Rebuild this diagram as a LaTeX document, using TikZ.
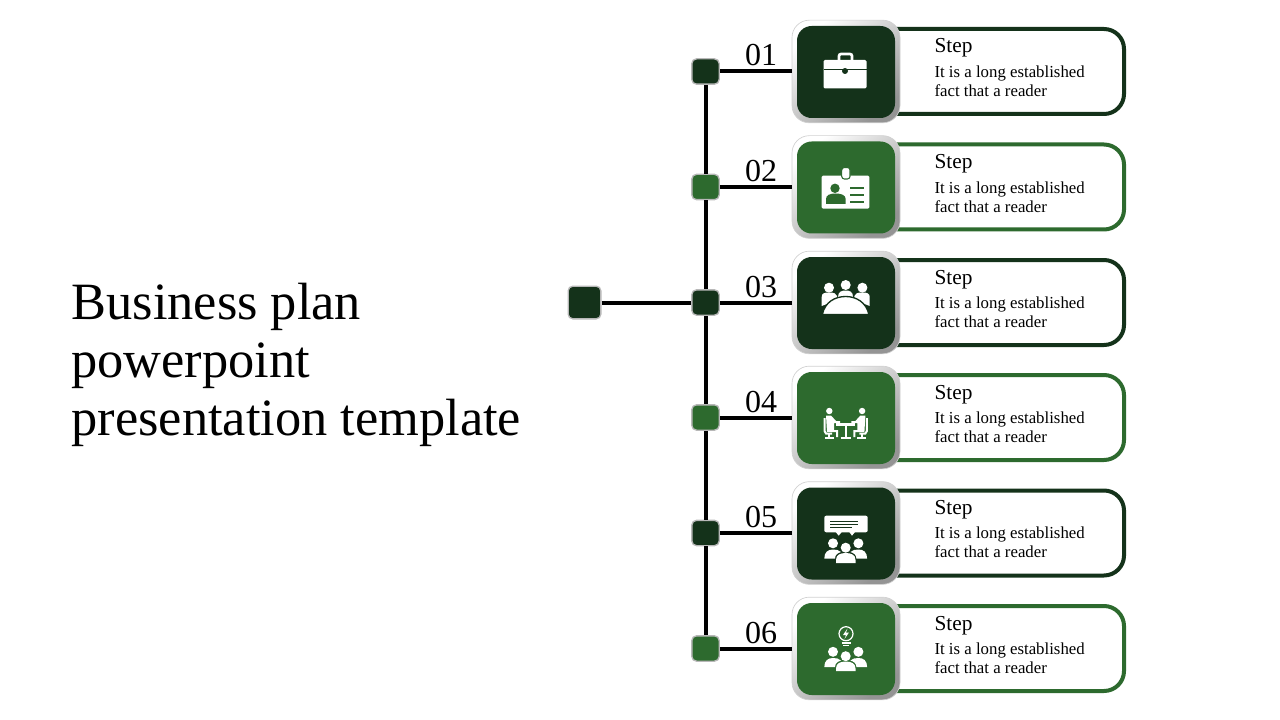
\documentclass[tikz,border=0pt]{standalone}
\usepackage{fontspec}
\setmainfont{Liberation Serif}
\definecolor{stepdark}{HTML}{14321A}
\definecolor{stepgreen}{HTML}{2D6A2E}
\tikzset{
	every picture/.style={line width=0.75pt},
	panel/.style={draw=#1,fill=white,line width=3pt,rounded corners=15pt,minimum width=205.5pt,minimum height=63.75pt,inner sep=0pt},
	card/.style={rounded corners=13pt,minimum width=81pt,minimum height=77pt,inner sep=0pt,draw=black!18,line width=0.5pt,top color=white,bottom color=black!42,shading angle=40},
	tile/.style={fill=#1,rounded corners=11pt,minimum width=73.5pt,minimum height=69pt,inner sep=0pt},
	dot/.style={fill=#1,rounded corners=3.5pt,minimum width=20.5pt,minimum height=19pt,inner sep=0pt,draw=black!28,line width=1pt},
	bigdot/.style={dot=#1,minimum width=24.5pt,minimum height=24.5pt},
	stem/.style={black,line width=3pt},
	numlabel/.style={anchor=base,font=\fontsize{24}{24}\selectfont},
	stephead/.style={anchor=base west,inner sep=0pt,font=\fontsize{16}{18}\selectfont},
	stepbody/.style={anchor=north west,inner sep=0pt,align=left,font=\fontsize{12.6}{14.25}\selectfont},
	headline/.style={anchor=west,inner sep=0pt,align=left,font=\fontsize{39.3}{43.5}\selectfont},
	iconfill/.style={fill=white,draw=none},
	iconline/.style={white,line width=1.5pt}
}
\begin{document}
\begin{tikzpicture}[x=0.75pt,y=0.75pt,yscale=-1,xscale=1]
	\useasboundingbox (0,0) rectangle (1280,720);

	% Panels
	\node [panel=stepdark] (panel1) at (987,71.5) {};
	\node [panel=stepgreen] (panel2) at (987,187) {};
	\node [panel=stepdark] (panel3) at (987,302.5) {};
	\node [panel=stepgreen] (panel4) at (987,417.5) {};
	\node [panel=stepdark] (panel5) at (987,533) {};
	\node [panel=stepgreen] (panel6) at (987,648.5) {};

	% Cards
	\node [card] (card1) at (846,71.5) {};
	\node [card] (card2) at (846,187) {};
	\node [card] (card3) at (846,302.5) {};
	\node [card] (card4) at (846,417.5) {};
	\node [card] (card5) at (846,533) {};
	\node [card] (card6) at (846,648.5) {};
	\node [tile=stepdark] (tile1) at (846,72) {};
	\node [tile=stepgreen] (tile2) at (846,187.5) {};
	\node [tile=stepdark] (tile3) at (846,303) {};
	\node [tile=stepgreen] (tile4) at (846,418) {};
	\node [tile=stepdark] (tile5) at (846,533.5) {};
	\node [tile=stepgreen] (tile6) at (846,649) {};

	% Dots
	\node [dot=stepdark] (dot1) at (705.5,71.5) {};
	\node [dot=stepgreen] (dot2) at (705.5,187) {};
	\node [dot=stepdark] (dot3) at (705.5,302.5) {};
	\node [dot=stepgreen] (dot4) at (705.5,417.5) {};
	\node [dot=stepdark] (dot5) at (705.5,533) {};
	\node [dot=stepgreen] (dot6) at (705.5,648.5) {};
	\node [bigdot=stepdark] (root) at (584.5,302.5) {};

	% Straight Lines
	\draw [stem] (root) -- (dot3);
	\draw [stem] (dot1) -- (dot2);
	\draw [stem] (dot2) -- (dot3);
	\draw [stem] (dot3) -- (dot4);
	\draw [stem] (dot4) -- (dot5);
	\draw [stem] (dot5) -- (dot6);
	\draw [stem] (dot1) -- (card1);
	\draw [stem] (dot2) -- (card2);
	\draw [stem] (dot3) -- (card3);
	\draw [stem] (dot4) -- (card4);
	\draw [stem] (dot5) -- (card5);
	\draw [stem] (dot6) -- (card6);

	% Icon: briefcase
	\fill [iconfill,rounded corners=1pt] (823.5,60) rectangle (866.5,88.5);
	\draw [iconline,line width=2pt,rounded corners=1.5pt] (839,60) -- (839,54) -- (852,54) -- (852,60);
	\draw [stepdark,line width=0.6pt] (823.5,69.5) -- (866.5,69.5);
	\fill [stepdark] (845,71) circle (3);

	% Icon: badge
	\fill [iconfill,rounded corners=1pt] (821.7,175.7) rectangle (869.3,208.7);
	\filldraw [draw=stepgreen,fill=white,line width=0.8pt,rounded corners=2pt] (841.7,167.5) rectangle (850,179);
	\fill [stepgreen] (835,188.3) circle (4.7);
	\fill [stepgreen] (826,204) -- (826,199) .. controls (826,195) and (830,193.5) .. (835.8,193.5) .. controls (841,193.5) and (845.7,195) .. (845.7,199) -- (845.7,204) -- cycle;
	\draw [stepgreen,line width=1.3pt] (850,188.3) -- (864.3,188.3);
	\draw [stepgreen,line width=1.3pt] (850,195.3) -- (864.3,195.3);
	\draw [stepgreen,line width=1.3pt] (850,202.3) -- (864.3,202.3);

	% Icon: round table
	\fill [iconfill] (829,287.7) circle (5);
	\fill [iconfill] (845.7,285) circle (5);
	\fill [iconfill] (862.4,287.7) circle (5);
	\fill [iconfill] (821.7,306) -- (821.7,297) .. controls (821.7,293.5) and (824,292.5) .. (829,292.5) .. controls (834,292.5) and (836.5,293.5) .. (837,296) -- (837,300) -- cycle;
	\fill [iconfill] (869.7,306) -- (869.7,297) .. controls (869.7,293.5) and (867.4,292.5) .. (862.4,292.5) .. controls (857.4,292.5) and (854.9,293.5) .. (854.4,296) -- (854.4,300) -- cycle;
	\fill [iconfill] (838,297) .. controls (838,291.5) and (842,290.5) .. (845.7,290.5) .. controls (849.5,290.5) and (853,291.5) .. (853,297) -- cycle;
	\filldraw [draw=stepdark,fill=white,line width=1pt] (822.3,314.5) .. controls (825,302) and (835,296.5) .. (845.7,296.5) .. controls (856,296.5) and (866,302) .. (869,314.5) -- cycle;

	% Icon: meeting
	\fill [iconfill] (829.3,411) circle (3.2);
	\fill [iconfill] (862.1,411) circle (3.2);
	\fill [iconfill] (826,415.5) -- (831,415.5) -- (836,421) -- (840,421) -- (840,423) -- (834,423) -- (834,430) -- (838,430) -- (838,437) -- (836,437) -- (836,432) -- (827,432) -- cycle;
	\fill [iconfill] (865.4,415.5) -- (860.4,415.5) -- (855.4,421) -- (851.4,421) -- (851.4,423) -- (857.4,423) -- (857.4,430) -- (853.4,430) -- (853.4,437) -- (855.4,437) -- (855.4,432) -- (864.4,432) -- cycle;
	\draw [iconline] (824.5,418) -- (824.5,431) -- (826,433.5) -- (832,433.5);
	\draw [iconline] (866.9,418) -- (866.9,431) -- (865.4,433.5) -- (859.4,433.5);
	\draw [iconline] (829,433.5) -- (829,438);
	\draw [iconline] (862.4,433.5) -- (862.4,438);
	\draw [iconline] (825,438) -- (834,438);
	\draw [iconline] (857.4,438) -- (866.4,438);
	\fill [iconfill] (836,423) rectangle (855.4,425.5);
	\draw [iconline] (845.7,425) -- (845.7,437);
	\draw [iconline] (840.7,438) -- (850.7,438);

	% Icon: speech bubble and people
	\fill [iconfill,rounded corners=1.5pt] (824.3,515.7) rectangle (867.7,532.3);
	\fill [iconfill] (835.7,532) -- (841.7,532) -- (838.7,535.7) -- cycle;
	\fill [iconfill] (849.3,532) -- (855,532) -- (852,535.7) -- cycle;
	\draw [stepdark,line width=0.6pt] (830,521.7) -- (858.3,521.7);
	\draw [stepdark,line width=0.6pt] (830,524.3) -- (858.3,524.3);
	\draw [stepdark,line width=0.6pt] (830,527) -- (851.7,527);
	\fill [iconfill] (833,543.3) circle (5);
	\fill [iconfill] (845.7,547.7) circle (5);
	\fill [iconfill] (858.4,543.3) circle (5);
	\fill [iconfill] (824.3,558.5) .. controls (824.3,552) and (828,549.5) .. (833,549.5) .. controls (836,549.5) and (839,550) .. (841,552) .. controls (837.5,553) and (835,555) .. (835,558.5) -- cycle;
	\fill [iconfill] (867.1,558.5) .. controls (867.1,552) and (863.4,549.5) .. (858.4,549.5) .. controls (855.4,549.5) and (852.4,550) .. (850.4,552) .. controls (853.9,553) and (856.4,555) .. (856.4,558.5) -- cycle;
	\fill [iconfill] (836,563) -- (836,560) .. controls (836,555) and (840,553) .. (845.7,553) .. controls (851.5,553) and (855.5,555) .. (855.5,560) -- (855.5,563) -- cycle;

	% Icon: light bulb and people
	\draw [white,line width=0.9pt] (846,633.7) circle (7);
	\fill [iconfill] (847.5,628.5) -- (843,635) -- (846,635) -- (844.5,639) -- (849,632.5) -- (846,632.5) -- cycle;
	\draw [iconline,line width=1pt] (841.5,643) -- (850.5,643);
	\draw [iconline,line width=1pt] (843,645.7) -- (849,645.7);
	\fill [iconfill] (833,651.8) circle (5);
	\fill [iconfill] (845.7,656.2) circle (5);
	\fill [iconfill] (858.4,651.8) circle (5);
	\fill [iconfill] (824.3,667) .. controls (824.3,660.5) and (828,658) .. (833,658) .. controls (836,658) and (839,658.5) .. (841,660.5) .. controls (837.5,661.5) and (835,663.5) .. (835,667) -- cycle;
	\fill [iconfill] (867.1,667) .. controls (867.1,660.5) and (863.4,658) .. (858.4,658) .. controls (855.4,658) and (852.4,658.5) .. (850.4,660.5) .. controls (853.9,661.5) and (856.4,663.5) .. (856.4,667) -- cycle;
	\fill [iconfill] (836,671.2) -- (836,668.5) .. controls (836,663.5) and (840,661.5) .. (845.7,661.5) .. controls (851.5,661.5) and (855.5,663.5) .. (855.5,668.5) -- (855.5,671.2) -- cycle;

	% Text Node
	\node [headline] (title) at (71,365) {Business plan\\powerpoint\\presentation template};
	% Text Node
	\node [numlabel] (num1) at (761,66) {01};
	\node [numlabel] (num2) at (761,182) {02};
	\node [numlabel] (num3) at (761,297) {03};
	\node [numlabel] (num4) at (761,412) {04};
	\node [numlabel] (num5) at (761,527) {05};
	\node [numlabel] (num6) at (761,643) {06};
	% Text Node
	\node [stephead] (head1) at (934,53) {Step};
	\node [stephead] (head2) at (934,169) {Step};
	\node [stephead] (head3) at (934,284) {Step};
	\node [stephead] (head4) at (934,399) {Step};
	\node [stephead] (head5) at (934,514) {Step};
	\node [stephead] (head6) at (934,630) {Step};
	% Text Node
	\node [stepbody] (body1) at (934,65.5) {It is a long established\\fact that a reader};
	\node [stepbody] (body2) at (934,181.5) {It is a long established\\fact that a reader};
	\node [stepbody] (body3) at (934,296.5) {It is a long established\\fact that a reader};
	\node [stepbody] (body4) at (934,411.5) {It is a long established\\fact that a reader};
	\node [stepbody] (body5) at (934,526.5) {It is a long established\\fact that a reader};
	\node [stepbody] (body6) at (934,642.5) {It is a long established\\fact that a reader};
\end{tikzpicture}
\end{document}
